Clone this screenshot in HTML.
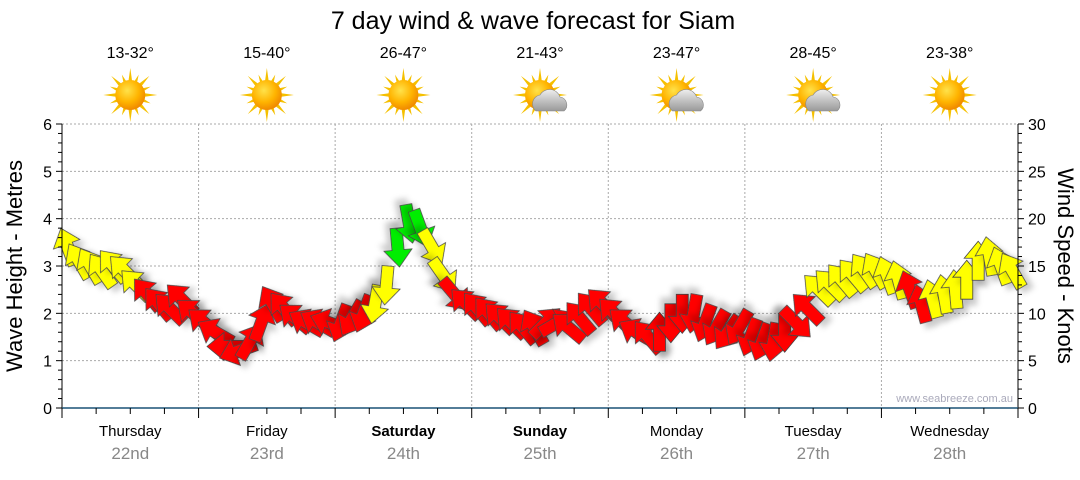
<!DOCTYPE html>
<html><head><meta charset="utf-8">
<style>
body{margin:0;background:#fff;width:1080px;height:475px;overflow:hidden;font-family:"Liberation Sans",sans-serif}
svg text{font-family:"Liberation Sans",sans-serif}
</style></head>
<body>
<svg id="chart" width="1080" height="475" viewBox="0 0 1080 475">
<defs>
<filter id="sh" x="-50%" y="-50%" width="200%" height="200%"><feDropShadow dx="4" dy="6" stdDeviation="3" flood-color="#000" flood-opacity="0.2"/></filter>
<radialGradient id="sunG" cx="40%" cy="35%" r="65%"><stop offset="0" stop-color="#ffe24a"/><stop offset="0.6" stop-color="#ffb400"/><stop offset="1" stop-color="#f08a00"/></radialGradient>
<linearGradient id="cloudG" x1="0" y1="0" x2="0" y2="1"><stop offset="0" stop-color="#eee"/><stop offset="1" stop-color="#999"/></linearGradient>
</defs>
<text x="533" y="29" font-size="25" text-anchor="middle" fill="#000">7 day wind &amp; wave forecast for Siam</text>
<g id="grid"></g>
<g id="icons"></g>
<g id="arrows"></g>
<g id="axes"></g>
<text x="1013" y="402" font-size="11" fill="#aab" text-anchor="end">www.seabreeze.com.au</text>
<text transform="translate(22,266) rotate(-90)" font-size="22" text-anchor="middle">Wave Height - Metres</text>
<text transform="translate(1058,266) rotate(90)" font-size="22" text-anchor="middle">Wind Speed - Knots</text>
</svg>
<script>
const days=["Thursday","Friday","Saturday","Sunday","Monday","Tuesday","Wednesday"];
const dates=["22nd","23rd","24th","25th","26th","27th","28th"];
const boldDays=[false,false,true,true,false,false,false];
const temps=["13-32°","15-40°","26-47°","21-43°","23-47°","28-45°","23-38°"];
const cloudy=[false,false,false,true,true,true,false];
const waveTicks=[0,1,2,3,4,5,6];
const windTicks=[0,5,10,15,20,25,30];
const windKnots=[
17,15.5,15,14.5,15,14.5,13,12,11,10.5,11.5,10,
9,8,6.5,6,7,9,11,10.5,9.5,9,9,9,
9,9.5,10,11,13,17,19.5,19,17,14,12,11,
10.5,10,9.5,9,8.5,8.5,9,9,8.5,9.5,10.5,11,
10,9,8,7.5,8,9,10,10,9,8.5,8,8.5,
7.5,7,7,8,9,10.5,12.5,13,13.5,14,14.5,14.5,
14,13.5,12.5,11,11.5,12,12.5,13.5,15.5,16,15,14.5];
const windDir=[
-20,-30,-30,-35,-40,-45,-45,-40,-40,-45,-45,-50,
-50,-60,-90,-110,30,20,-30,-40,-50,-60,-60,-70,
200,210,200,190,185,175,170,160,150,145,140,-45,
-40,-40,-45,-45,-40,-30,45,60,-50,-40,-40,-45,
-45,-50,-60,-40,0,180,180,190,200,210,215,210,
200,200,190,180,135,-45,-45,-45,-40,-40,-35,-30,
-20,-15,-20,-15,-15,-10,-5,0,0,-10,-20,-30];
const windColor=[
"y","y","y","y","y","y","y","r","r","r","r","r",
"r","r","r","r","r","r","r","r","r","r","r","r",
"r","r","r","y","y","g","g","g","y","y","r","r",
"r","r","r","r","r","r","r","r","r","r","r","r",
"r","r","r","r","r","r","r","r","r","r","r","r",
"r","r","r","r","r","r","y","y","y","y","y","y",
"y","y","r","r","y","y","y","y","y","y","y","y"];
const NS="http://www.w3.org/2000/svg";
const X0=62,X1=1018,Y0=408,Y6=124,dayW=(X1-X0)/7;
const xHour=h=>X0+h/24*dayW;
const yWave=m=>Y0-(m/6)*(Y0-Y6);
const yWind=k=>Y0-(k/30)*(Y0-Y6);
function mk(tag,attrs,parent){const e=document.createElementNS(NS,tag);for(const k in attrs)e.setAttribute(k,attrs[k]);parent.appendChild(e);return e;}
const grid=document.getElementById('grid'),axes=document.getElementById('axes'),icons=document.getElementById('icons'),arrows=document.getElementById('arrows');
waveTicks.forEach(v=>{if(v>0){const l=mk('line',{x1:X0,x2:X1,y1:yWave(v),y2:yWave(v),stroke:'#aaa','stroke-dasharray':'2,2'},grid);

}});
for(let d=1;d<7;d++){const l=mk('line',{x1:X0+d*dayW,x2:X0+d*dayW,y1:Y6,y2:Y0,stroke:'#aaa','stroke-dasharray':'2,2'},grid);

}
mk('line',{x1:X0,x2:X0,y1:Y6,y2:Y0,stroke:'#000'},axes);
mk('line',{x1:X1,x2:X1,y1:Y6,y2:Y0,stroke:'#000'},axes);
mk('line',{x1:X0,x2:X1,y1:Y0,y2:Y0,stroke:'#1a5276','stroke-width':1.5},axes);
for(let i=0;i<=30;i++){const y=Y0-i/30*(Y0-Y6);const big=i%5==0;
mk('line',{x1:X0-(big?6:4),x2:X0,y1:y,y2:y,stroke:'#000'},axes);
mk('line',{x1:X1,x2:X1+(big?6:4),y1:y,y2:y,stroke:'#000'},axes);}
waveTicks.forEach(v=>{const t=mk('text',{x:X0-10,y:yWave(v)+6,'font-size':16,'text-anchor':'end'},axes);t.textContent=v;

});
windTicks.forEach(v=>{const t=mk('text',{x:X1+10,y:yWind(v)+6,'font-size':16},axes);t.textContent=v;

});
for(let q=0;q<=28;q++){const x=X0+q*dayW/4;mk('line',{x1:x,x2:x,y1:Y0,y2:Y0+(q%4==0?10:6),stroke:'#000'},axes);}
days.forEach((d,i)=>{const cx=X0+(i+0.5)*dayW;
const t=mk('text',{x:cx,y:436,'font-size':15,'text-anchor':'middle','font-weight':boldDays[i]?'bold':'normal'},axes);t.textContent=d;


const t2=mk('text',{x:cx,y:459,'font-size':17,'text-anchor':'middle',fill:'#888'},axes);t2.textContent=dates[i];


const tt=mk('text',{x:cx,y:58,'font-size':16,'text-anchor':'middle'},icons);tt.textContent=temps[i];


const g=mk('g',{transform:`translate(${cx},95)`},icons);


for(let a=0;a<16;a++){const r=a%2?13:18;mk('polygon',{points:`-2.5,0 2.5,0 0,-${r}`,fill:'#f5c000',transform:`rotate(${a*22.5}) translate(0,-9)`},g);}
mk('circle',{r:15,fill:'url(#sunG)'},g);
if(cloudy[i]){mk('path',{d:'M-4,16 a9,9 0 0 1 4,-16 a11,11 0 0 1 20,2 a8,8 0 0 1 4,14 z',fill:'url(#cloudG)',stroke:'#888','stroke-width':0.6},g);}
});
const cols={y:'#ffff00',r:'#ff0000',g:'#00ee00'};
windKnots.forEach((k,i)=>{const x=xHour(i*2+1),y=yWind(k);
const p=mk('polygon',{points:'0,-20 14,-3 6,-3 6,19 -6,19 -6,-3 -14,-3',fill:cols[windColor[i]],stroke:'#444','stroke-width':0.8,filter:'url(#sh)',transform:`translate(${x},${y}) rotate(${windDir[i]})`},arrows);

});
</script>
</body></html>
